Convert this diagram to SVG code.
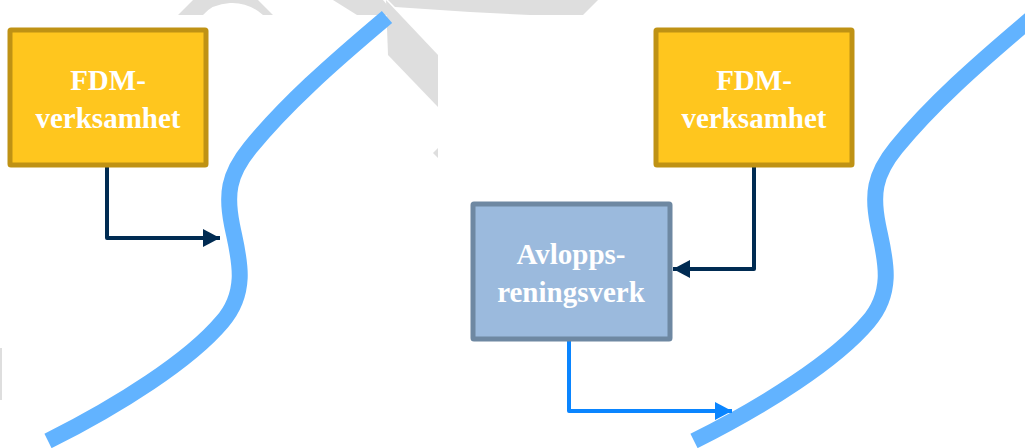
<svg xmlns="http://www.w3.org/2000/svg" width="1025" height="448" viewBox="0 0 1025 448">
<defs>
<style>
.wm{fill:#dedede;stroke:none}
.river{fill:none;stroke:#62b3ff;stroke-width:16;stroke-linecap:butt}
.fdm rect{fill:#ffc61e;stroke:#bf9214;stroke-width:5}
.arv rect{fill:#9bbadd;stroke:#6e88a2;stroke-width:5}
.lbl{font-family:"Liberation Serif","Times New Roman",serif;font-weight:bold;font-size:29px;fill:#ffffff;text-anchor:middle}
.navy{fill:none;stroke:#002b52;stroke-width:4;stroke-linejoin:round}
.bl{fill:none;stroke:#0a85ff;stroke-width:4;stroke-linejoin:round}
</style>
<marker id="ahNavy" markerUnits="userSpaceOnUse" markerWidth="18" markerHeight="18" refX="17" refY="9" orient="auto">
<path d="M0,0 L17,9 L0,18 Z" fill="#002b52"/>
</marker>
<marker id="ahBlue" markerUnits="userSpaceOnUse" markerWidth="18" markerHeight="18" refX="17" refY="9" orient="auto">
<path d="M0,0 L17,9 L0,18 Z" fill="#0a85ff"/>
</marker>
</defs>
<rect width="1025" height="448" fill="#ffffff"/>
<g id="watermark">
<path class="wm" d="M193,0 L258,0 L273,15 L263,15 Q248,2 230,3 Q212,4 203,15 L178,15 Z"/>
<path class="wm" d="M333,0 L383,0 L388,6 L388,15 L357,15 Z"/>
<path class="wm" d="M386,0 L438,55 L438,107 L388,55 Z"/>
<path class="wm" d="M388,0 L598,0 L583,15 L530,15 L470,12 L395,7 Z"/>
<path class="wm" d="M438,148 L433,153 L438,158 Z"/>
<rect class="wm" x="0" y="348" width="2" height="52"/>
</g>
<g id="rivers">
<path class="river" d="M48,441 C120,405 190,360 222,322 C250,290 238,255 232,225 C226,195 228,175 250,148 C285,105 330,65 387,17"/>
<path class="river" transform="translate(646,0)" d="M48,441 C120,405 190,360 222,322 C250,290 238,255 232,225 C226,195 228,175 250,148 C285,105 330,65 387,17"/>
</g>
<g id="connectors">
<path class="navy" d="M107,167 L107,238 L220,238" marker-end="url(#ahNavy)"/>
<path class="navy" d="M754,166 L754,269 L673,269" marker-end="url(#ahNavy)"/>
<path class="bl" d="M569,341 L569,411 L732,411" marker-end="url(#ahBlue)"/>
</g>
<g id="fdm-left" class="fdm">
<rect x="10" y="30" width="196" height="135" rx="1"/>
<text class="lbl" x="108" y="90">FDM-</text>
<text class="lbl" x="108" y="128">verksamhet</text>
</g>
<g id="fdm-right" class="fdm">
<rect x="656" y="30" width="196" height="135" rx="1"/>
<text class="lbl" x="754" y="90">FDM-</text>
<text class="lbl" x="754" y="128">verksamhet</text>
</g>
<g id="avlopp" class="arv">
<rect x="473" y="204" width="197" height="135" rx="1"/>
<text class="lbl" x="571" y="264">Avlopps-</text>
<text class="lbl" x="571" y="302">reningsverk</text>
</g>
</svg>
